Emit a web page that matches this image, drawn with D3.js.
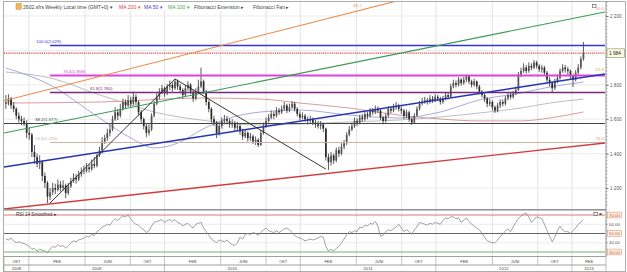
<!DOCTYPE html>
<html><head><meta charset="utf-8">
<script src="https://cdn.jsdelivr.net/npm/d3@7"></script>
<style>body{margin:0;background:#fff}svg{display:block;font-family:"Liberation Sans",Arial,sans-serif}</style>
</head><body><svg id="c" width="627" height="272"></svg>
<script>
// ---------- DATA ----------
const firstWeek = "2008-10-31";
const firstOpen = 1690;
const closes = [1700,1720,1680,1660,1620,1600,1590,1575,1520,1510,
1410,1380,1340,1350,1270,1230,1150,1175,1200,1190,
1220,1200,1215,1170,1210,1240,1260,1250,1280,1295,
1300,1320,1310,1340,1330,1390,1420,1470,1490,1520,
1540,1600,1640,1620,1660,1700,1680,1710,1690,1730,
1700,1640,1600,1560,1520,1540,1620,1690,1730,1760,
1780,1750,1790,1800,1780,1820,1790,1770,1740,1780,
1800,1760,1720,1760,1790,1820,1760,1700,1660,1600,
1580,1520,1560,1590,1600,1590,1570,1580,1550,1560,
1530,1500,1520,1490,1500,1470,1480,1450,1520,1560,
1590,1610,1630,1620,1650,1640,1660,1680,1650,1670,
1690,1660,1630,1610,1620,1600,1590,1600,1580,1570,
1560,1570,1545,1380,1350,1390,1360,1420,1400,1440,
1460,1510,1540,1560,1590,1580,1610,1600,1630,1620,
1650,1640,1660,1650,1610,1590,1620,1660,1650,1670,
1680,1660,1650,1620,1640,1600,1580,1620,1660,1690,
1700,1710,1700,1720,1710,1730,1720,1700,1720,1740,
1730,1790,1810,1800,1830,1810,1830,1850,1820,1800,
1820,1790,1760,1740,1720,1690,1700,1670,1650,1680,
1700,1690,1720,1740,1730,1750,1770,1860,1880,1900,
1880,1910,1900,1930,1910,1890,1900,1870,1830,1810,
1780,1820,1840,1880,1900,1890,1880,1850,1830,1870,
1900,1950,1984];
const highs = [1740,1745,1730,1700,1670,1640,1620,1610,1595,1550,
1520,1450,1400,1390,1360,1290,1240,1200,1230,1225,
1250,1240,1245,1225,1230,1260,1285,1280,1300,1320,
1330,1345,1340,1365,1380,1400,1440,1495,1510,1545,
1570,1620,1670,1660,1690,1720,1715,1740,1730,1760,
1745,1710,1655,1610,1575,1570,1635,1705,1750,1780,
1800,1790,1805,1825,1815,1834,1830,1805,1780,1800,
1820,1810,1770,1780,1830,1900,1830,1770,1710,1670,
1620,1590,1580,1610,1625,1620,1605,1600,1590,1585,
1570,1545,1540,1530,1520,1510,1500,1490,1535,1580,
1610,1630,1650,1645,1670,1665,1680,1700,1690,1690,
1705,1700,1670,1645,1640,1630,1615,1620,1610,1595,
1590,1590,1580,1550,1400,1410,1400,1435,1440,1460,
1480,1525,1560,1580,1610,1605,1625,1630,1645,1645,
1665,1665,1680,1675,1660,1620,1635,1675,1675,1690,
1700,1690,1675,1660,1655,1650,1610,1635,1675,1705,
1725,1730,1725,1740,1735,1745,1740,1730,1735,1755,
1750,1805,1830,1825,1845,1840,1845,1860,1855,1830,
1835,1825,1800,1770,1750,1730,1720,1710,1680,1695,
1715,1715,1735,1755,1755,1765,1790,1875,1900,1925,
1915,1930,1925,1944,1940,1920,1915,1910,1880,1845,
1820,1835,1860,1895,1920,1915,1905,1890,1860,1885,
1920,1965,2049];
const lows = [1660,1680,1660,1640,1600,1580,1565,1560,1490,1480,
1380,1340,1320,1310,1240,1200,1113,1130,1160,1165,
1180,1180,1185,1140,1160,1200,1230,1225,1240,1265,
1280,1290,1290,1300,1315,1320,1380,1400,1455,1475,
1500,1530,1590,1595,1610,1650,1660,1670,1670,1680,
1680,1620,1580,1540,1495,1505,1530,1610,1680,1715,
1745,1730,1740,1770,1760,1770,1770,1750,1720,1730,
1765,1745,1700,1710,1750,1780,1745,1680,1640,1580,
1560,1490,1505,1545,1570,1570,1550,1550,1530,1535,
1510,1480,1490,1470,1475,1455,1450,1438,1445,1510,
1550,1580,1600,1600,1610,1625,1630,1650,1635,1640,
1660,1645,1615,1595,1600,1585,1570,1575,1565,1550,
1545,1540,1525,1360,1305,1330,1340,1350,1380,1390,
1425,1450,1500,1530,1550,1560,1570,1585,1590,1600,
1610,1625,1630,1635,1595,1570,1580,1610,1635,1640,
1655,1645,1630,1600,1605,1585,1566,1575,1615,1650,
1680,1690,1685,1690,1695,1700,1705,1685,1690,1710,
1715,1725,1780,1785,1790,1795,1800,1815,1805,1785,
1790,1775,1745,1725,1700,1670,1675,1650,1636,1640,
1665,1675,1680,1710,1715,1720,1740,1765,1845,1870,
1865,1870,1885,1890,1895,1875,1870,1855,1815,1790,
1752,1770,1810,1830,1870,1870,1860,1830,1787,1820,
1860,1890,1940];
const rsi = [44,43,45,42,40,41,40,39,38,36,
33,34,31,33,32,31,29,33,36,35,
38,36,37,34,37,40,42,41,43,44,
45,47,46,49,48,52,54,57,58,60,
59,63,66,64,67,69,68,70,66,62,
60,59,56,54,51,53,58,62,63,64,
65,62,64,65,63,65,62,61,58,60,
61,58,56,60,61,62,56,52,48,44,
42,40,43,42,41,43,40,38,37,40,
46,44,49,50,49,51,50,48,51,54,
56,53,52,51,53,51,53,55,56,54,
51,48,46,45,44,42,43,44,43,44,
45,47,46,36,31,33,31,34,36,40,
44,49,52,51,53,52,57,56,59,58,
61,60,63,58,47,48,52,54,53,55,
57,60,56,52,54,52,49,54,57,62,
61,60,59,61,60,62,61,60,64,67,
66,68,68,66,67,62,64,67,63,60,
58,56,54,50,46,42,41,40,40,43,
47,49,53,55,52,57,62,66,69,71,
72,68,62,65,68,67,66,60,53,47,
41,46,53,58,54,52,52,50,53,56,
60,62,65];
// moving averages: [week index, value]
const ma50 = [[0,1898],[17,1799],[36,1607],[48,1491],[57,1433],[67,1467],[75,1537],[86,1607],[98,1642],[113,1653],[132,1624],[151,1607],[167,1642],[182,1712],[198,1752],[209,1787],[222,1816]];
const ma100 = [[0,1874],[17,1840],[36,1741],[48,1683],[57,1642],[75,1595],[98,1566],[113,1572],[132,1584],[151,1595],[167,1613],[182,1636],[198,1665],[209,1694],[222,1717]];
const ma200 = [[0,1694],[36,1700],[75,1723],[98,1717],[113,1694],[132,1665],[151,1624],[167,1601],[182,1590],[198,1590],[209,1607],[222,1642]];
// Fibonacci extension
const zigDates = ["2009-02-27","2010-01-29","2011-03-11"];
const zigValues = [1113,1834,1310];
const fibRatios = ["100.0","76.4","61.8","38.2","23.6"];
const fibValues = [2029,1858,1760,1577,1470];
// Fibonacci fan lines (value at left edge, value at right edge)
const fanLabels = ["38.2","50.0","61.8","76.4"];
const fanStart = [1707,1520,1322,1078];
const fanEnd = [2595,2223,1863,1462];
const lastPrice = 1984;
const priceTicks = [1200,1400,1600,1800,2000,2200];
const rsiTicks = [30,40,50,60,70];
const monthBounds = ["2009-01-01","2009-06-01","2009-10-01","2010-01-01","2010-06-01","2010-10-01","2011-01-01","2011-06-01","2011-10-01","2012-01-01","2012-06-01","2012-10-01","2013-01-01"];
const monthLabels = ["OKT","FEB","JUNI","OKT","FEB","JUNI","OKT","FEB","JUNI","OKT","FEB","JUNI","OKT","FEB"];
const yearBounds = ["2009-01-01","2010-01-01","2011-01-01","2012-01-01","2013-01-01"];
const yearLabels = ["2008","2009","2010","2011","2012","2013"];

// ---------- LAYOUT ----------
const L=4, R=605, AX=606, mainTop=2, mainBot=209, rsiTop=210, rsiBot=256.5, row2=265, bot=271.5;
const parse = d3.utcParse("%Y-%m-%d");
const x = d3.scaleUtc().domain([parse("2008-10-26"), parse("2013-03-31")]).range([L, R]);
const y = d3.scaleLinear().domain([1200, 2200]).range([188, 16]);
const yr = d3.scaleLinear().domain([30, 70]).range([252, 215]);
const dates = closes.map((c,i) => d3.utcDay.offset(parse(firstWeek), 7*i));
const svg = d3.select("#c");
const defs = svg.append("defs");
defs.append("clipPath").attr("id","cm").append("rect").attr("x",L).attr("y",mainTop).attr("width",R-L).attr("height",mainBot-mainTop);
defs.append("clipPath").attr("id","cr").append("rect").attr("x",L).attr("y",rsiTop).attr("width",R-L).attr("height",rsiBot-rsiTop);

svg.append("rect").attr("x",0).attr("y",0).attr("width",627).attr("height",272).attr("fill","#fff");

// grid
const grid = svg.append("g");
monthBounds.forEach(d => {
  grid.append("line").attr("x1",x(parse(d))).attr("x2",x(parse(d))).attr("y1",mainTop).attr("y2",rsiBot)
    .attr("stroke","#dcdcdc").attr("stroke-width",0.8);
});
priceTicks.forEach(v => {
  grid.append("line").attr("x1",L).attr("x2",R).attr("y1",y(v)).attr("y2",y(v)).attr("stroke","#e6e6e6").attr("stroke-width",0.8);
});

const main = svg.append("g").attr("clip-path","url(#cm)");
// moving averages
const maLine = d3.line().x(d => x(dates[d[0]])).y(d => y(d[1])).curve(d3.curveMonotoneX);
main.append("path").attr("d",maLine(ma200)).attr("fill","none").attr("stroke","#d89090").attr("stroke-width",0.9);
main.append("path").attr("d",maLine(ma100)).attr("fill","none").attr("stroke","#b0bab0").attr("stroke-width",0.9);
main.append("path").attr("d",maLine(ma50)).attr("fill","none").attr("stroke","#a0a0d8").attr("stroke-width",0.9);

// candles
const cg = main.append("g");
closes.forEach((c,i) => {
  const o = i === 0 ? firstOpen : closes[i-1];
  const xi = x(dates[i]);
  cg.append("line").attr("x1",xi).attr("x2",xi).attr("y1",y(highs[i])).attr("y2",y(lows[i])).attr("stroke","#333").attr("stroke-width",0.8);
  const top = y(Math.max(o,c)), b = y(Math.min(o,c));
  cg.append("rect").attr("x",xi-0.85).attr("y",top).attr("width",1.7).attr("height",Math.max(0.8,b-top))
    .attr("fill", c >= o ? "#555" : "#2a2a2a");
});

// fib extension horizontals
const fibColors = ["#3434d8","#e040e0","#7a2a7a","#444","#c4b4aa"];
const fibWidths = [1.3,1.8,1.5,1,1];
const fibStartX = [x(parse(zigDates[0])), x(parse(zigDates[0])), x(parse(zigDates[0])), L, x(parse(zigDates[0]))];
const fibLabelX = [36,63,90,35,35];
fibValues.forEach((v,i) => {
  const yy = Math.round(y(v)) + 0.5;
  main.append("line").attr("x1",fibStartX[i]).attr("x2",R).attr("y1",yy).attr("y2",yy)
    .attr("stroke",fibColors[i]).attr("stroke-width",fibWidths[i]);
  svg.append("text").attr("x",fibLabelX[i]).attr("y",yy-2.2).attr("font-size",4.4).attr("fill",fibColors[i])
    .text(fibRatios[i] + "(" + d3.format(",")(v).replace(",",".") + ")");
});

// last price dotted line
main.append("line").attr("x1",L).attr("x2",R).attr("y1",y(lastPrice)).attr("y2",y(lastPrice))
  .attr("stroke","#d84848").attr("stroke-width",1.1).attr("stroke-dasharray","1.2,0.9");

// fan lines
const fanColors = ["#f08848","#3a9a55","#2434b4","#d43a3a"];
const fanWidths = [1.1,1.1,1.5,1.4];
const d0 = x.domain()[0], d1 = x.domain()[1];
fanStart.forEach((s,i) => {
  main.append("line").attr("x1",x(d0)).attr("x2",x(d1)).attr("y1",y(s)).attr("y2",y(fanEnd[i]))
    .attr("stroke",fanColors[i]).attr("stroke-width",fanWidths[i]);
});

// zigzag
const zig = d3.line().x((d,i) => x(parse(zigDates[i]))).y(d => y(d));
main.append("path").attr("d",zig(zigValues)).attr("fill","none").attr("stroke","#222").attr("stroke-width",0.9);

// fan labels
fanStart.forEach((s,i) => {
  const y0 = y(s), y1 = y(fanEnd[i]);
  if (y1 > 10) {
    svg.append("text").attr("x",604).attr("y",y1-2.5).attr("text-anchor","end").attr("font-size",4.4).attr("fill","#e89a70").text(fanLabels[i]);
  } else {
    const t = (11 - y0)/(y1 - y0);
    svg.append("text").attr("x",L + t*(R-L)).attr("y",7).attr("text-anchor","middle").attr("font-size",4.4).attr("fill","#e89a70").text(fanLabels[i]);
  }
});
svg.append("rect").attr("x",592.5).attr("y",4.5).attr("width",3.5).attr("height",3).attr("fill","#fff").attr("stroke","#555").attr("stroke-width",0.6);

// RSI panel
const rg = svg.append("g");
const rLines = [[70,"#d86a6a",0.9],[60,"#e4e4e4",0.7],[50,"#555",0.9],[40,"#e4e4e4",0.7],[30,"#5aaa5a",0.9]];
rLines.forEach(d => rg.append("line").attr("x1",L).attr("x2",R).attr("y1",yr(d[0])).attr("y2",yr(d[0])).attr("stroke",d[1]).attr("stroke-width",d[2]));
const rsiLine = d3.line().x((d,i) => x(dates[i])).y(d => yr(d));
rg.append("path").attr("clip-path","url(#cr)").attr("d",rsiLine(rsi)).attr("fill","none").attr("stroke","#8a8a8a").attr("stroke-width",0.8);
svg.append("text").attr("x",16).attr("y",215.5).attr("font-size",4.6).attr("fill","#333").text("RSI 14 Smoothed ▸");
svg.append("rect").attr("x",594).attr("y",212.3).attr("width",3.2).attr("height",3).attr("fill","#fff").attr("stroke","#444").attr("stroke-width",0.6);
svg.append("text").attr("x",599).attr("y",215.6).attr("font-size",4.8).attr("fill","#222").attr("font-weight","bold").text("×");

// panel borders
svg.append("line").attr("x1",L).attr("x2",AX).attr("y1",mainBot+0.5).attr("y2",mainBot+0.5).attr("stroke","#777").attr("stroke-width",0.8);
svg.append("line").attr("x1",L).attr("x2",AX).attr("y1",rsiTop+0.5).attr("y2",rsiTop+0.5).attr("stroke","#999").attr("stroke-width",0.6);
svg.append("rect").attr("x",3.5).attr("y",1.5).attr("width",622).attr("height",bot-1.5).attr("fill","none").attr("stroke","#999").attr("stroke-width",0.8);

// right axes
svg.append("line").attr("x1",AX).attr("x2",AX).attr("y1",mainTop).attr("y2",rsiBot).attr("stroke","#777").attr("stroke-width",0.8);
const fmtK = v => d3.format(",")(v).replace(/,/g," ");
const minor = d3.range(1100, 2281, 20);
minor.forEach(v => { if (y(v) > mainTop && y(v) < mainBot) svg.append("line").attr("x1",AX).attr("x2",AX+1.5).attr("y1",y(v)).attr("y2",y(v)).attr("stroke","#777").attr("stroke-width",0.5); });
// the 2 000 label sits under the last-price box, so only the visible labels are drawn
const shownTicks = priceTicks.filter(v => Math.abs(y(v) - y(lastPrice)) > 6);
const ax = svg.append("g").attr("transform",`translate(${AX},0)`)
  .call(d3.axisRight(y).tickValues(shownTicks).tickFormat(fmtK).tickSize(2.5).tickPadding(1.5));
ax.select(".domain").remove();
ax.selectAll("text").attr("font-size",4.6).attr("fill","#555").attr("font-family","Liberation Sans, Arial");
ax.selectAll("line").attr("stroke","#777");

// last price box
svg.append("rect").attr("x",607).attr("y",y(lastPrice)-4.3).attr("width",17.5).attr("height",8.6).attr("fill","#fbfbe6").attr("stroke","#8c8c5a").attr("stroke-width",0.6);
svg.append("text").attr("x",609).attr("y",y(lastPrice)+1.7).attr("font-size",4.8).attr("fill","#222").text(fmtK(lastPrice));

// RSI axis
d3.range(26, 76, 2).forEach(v => { if (yr(v) > rsiTop+1 && yr(v) < rsiBot) svg.append("line").attr("x1",AX).attr("x2",AX+1.2).attr("y1",yr(v)).attr("y2",yr(v)).attr("stroke","#888").attr("stroke-width",0.4); });
rsiTicks.forEach(v => {
  const boxed = v !== 40 && v !== 60;
  if (boxed) {
    svg.append("rect").attr("x",607.5).attr("y",yr(v)-2.9).attr("width",14).attr("height",5.8).attr("fill","#fdeee4").attr("stroke","#e0885a").attr("stroke-width",0.5);
  } else {
    svg.append("line").attr("x1",AX).attr("x2",AX+2).attr("y1",yr(v)).attr("y2",yr(v)).attr("stroke","#777").attr("stroke-width",0.6);
  }
  svg.append("text").attr("x",609).attr("y",yr(v)+1.6).attr("font-size",4.4).attr("fill", boxed ? "#c8603a" : "#555").text(d3.format(".2f")(v));
});

// time axis
const ta = svg.append("g");
[rsiBot, row2].forEach(yy => ta.append("line").attr("x1",L).attr("x2",AX).attr("y1",yy).attr("y2",yy).attr("stroke","#777").attr("stroke-width",0.7));
const mEdges = [L, ...monthBounds.map(d => x(parse(d))), AX];
mEdges.forEach(e => ta.append("line").attr("x1",e).attr("x2",e).attr("y1",rsiBot).attr("y2",row2).attr("stroke","#999").attr("stroke-width",0.6));
monthLabels.forEach((t,i) => ta.append("text").attr("x",(mEdges[i]+mEdges[i+1])/2).attr("y",262.5).attr("text-anchor","middle").attr("font-size",3.9).attr("fill","#444").text(t));
const yEdges = [L, ...yearBounds.map(d => x(parse(d))), AX];
yEdges.forEach(e => ta.append("line").attr("x1",e).attr("x2",e).attr("y1",row2).attr("y2",bot).attr("stroke","#999").attr("stroke-width",0.6));
yearLabels.forEach((t,i) => ta.append("text").attr("x",(yEdges[i]+yEdges[i+1])/2).attr("y",270).attr("text-anchor","middle").attr("font-size",4.3).attr("fill","#444").text(t));

// header legend
const hd = svg.append("g");
hd.append("rect").attr("x",14).attr("y",2.3).attr("width",282).attr("height",8).attr("fill","#fff");
hd.append("rect").attr("x",16).attr("y",3.6).attr("width",5.2).attr("height",5.6).attr("fill","#f2b45a").attr("stroke","#c88a30").attr("stroke-width",0.5);
const items = [["2602.sfrs Weekly Local time (GMT+0) ▾",23,"#444"],["MA 200 ▾",119,"#e04848"],["MA 50 ▾",144,"#4848c8"],["MA 100 ▾",168,"#48a848"],["Fibonacci Extension ▸",194,"#444"],["Fibonacci Fan ▸",253,"#444"]];
items.forEach(d => hd.append("text").attr("x",d[1]).attr("y",8.6).attr("font-size",5.1).attr("fill",d[2]).text(d[0]));
</script></body></html>
